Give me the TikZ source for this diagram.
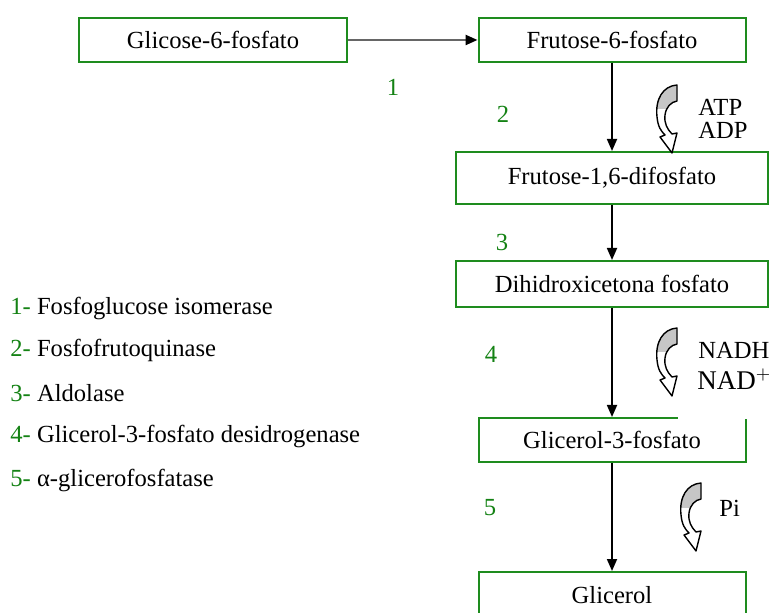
\documentclass[tikz,border=0pt]{standalone}
\usepackage{fontspec}
\setmainfont{Liberation Serif}
\usetikzlibrary{arrows.meta}
\definecolor{boxgreen}{RGB}{30,140,30}
\definecolor{numgreen}{RGB}{20,130,20}

% outline of the small curved cofactor arrow (local units, y down)
\newcommand{\curvpath}{(0,0) .. controls (-14,1) and (-22,14) .. (-20,32)
    .. controls (-19,42) and (-16,46) .. (-12,50) -- (-17,52) -- (-5,68)
    -- (0,48) -- (-5,49) .. controls (-10,44) and (-13,38) .. (-12,30)
    .. controls (-11,22) and (-6,17) .. (0,16) -- cycle}

\begin{document}
\begin{tikzpicture}[
    x=0.5pt, y=-0.5pt,
    font=\fontsize{12.3}{14}\selectfont,
    metab/.style={draw=boxgreen, line width=1pt, fill=white,
        minimum width=133.5pt, minimum height=22pt, inner sep=0pt},
    widemetab/.style={metab, minimum width=156pt},
    reac/.style={-{Triangle[length=6pt,width=5pt,color=black]}, line width=0.9pt},
    enz/.style={text=numgreen, inner sep=0pt},
    cofac/.style={anchor=west, inner sep=0pt},
    legitem/.style={anchor=west, inner sep=0pt},
    curvarrow/.pic={
        \fill[white] \curvpath;
        \begin{scope}
            \clip (-25,-2) rectangle (2,24);
            \fill[gray!45] \curvpath;
        \end{scope}
        \draw[line width=0.7pt, line join=round] \curvpath;
    }
]
    \useasboundingbox (0,0) rectangle (769,613);

    % Metabolites
    \node[metab, minimum width=134pt] (glc6p) at (213,40) {Glicose-6-fosfato};
    \node[metab] (fru6p) at (612,40) {Frutose-6-fosfato};
    \node[widemetab, minimum height=26pt] (fru16bp) at (612,178) {Frutose-1,6-difosfato};
    \node[widemetab, minimum height=23pt] (dhap) at (612,284) {Dihidroxicetona fosfato};
    \node[metab] (g3p) at (612,440) {Glicerol-3-fosfato};
    \node[metab, minimum height=23pt] (glicerol) at (612,595) {Glicerol};

    % Reactions
    \draw[reac, draw=black!60, line width=1.2pt] (glc6p) -- (fru6p);
    \draw[reac] (fru6p) -- (fru16bp);
    \draw[reac] (fru16bp) -- (dhap);
    \draw[reac] (dhap) -- (g3p);
    \draw[reac] (g3p) -- (glicerol);

    % Enzyme numbers
    \node[enz] (n1) at (393,87) {1};
    \node[enz] (n2) at (503,114) {2};
    \node[enz] (n3) at (502,242) {3};
    \node[enz] (n4) at (491,354) {4};
    \node[enz] (n5) at (490,508) {5};

    % Cofactors
    \pic at (677,85) {curvarrow};
    \node[cofac] (atp) at (698,107) {ATP};
    \node[cofac] (adp) at (698,130) {ADP};

    \pic at (677,328) {curvarrow};
    \node[anchor=base west, fill=white, inner xsep=9.5pt, inner ysep=0pt,
        text depth=14.5pt, font=\fontsize{13.5}{16}\selectfont] (nad) at (678,390) {NAD$^+$};
    \node[cofac] (nadh) at (698,350) {NADH};

    \pic at (701,483) {curvarrow};
    \node[cofac] (pi) at (719,508) {Pi};

    % Legend
    \node[legitem] (leg1) at (10,308) {\textcolor{numgreen}{1-} Fosfoglucose isomerase};
    \node[legitem] (leg2) at (10,350) {\textcolor{numgreen}{2-} Fosfofrutoquinase};
    \node[legitem] (leg3) at (10,393) {\textcolor{numgreen}{3-} Aldolase};
    \node[legitem] (leg4) at (10,436) {\textcolor{numgreen}{4-} Glicerol-3-fosfato desidrogenase};
    \node[legitem] (leg5) at (10,480) {\textcolor{numgreen}{5-} α-glicerofosfatase};
\end{tikzpicture}
\end{document}
